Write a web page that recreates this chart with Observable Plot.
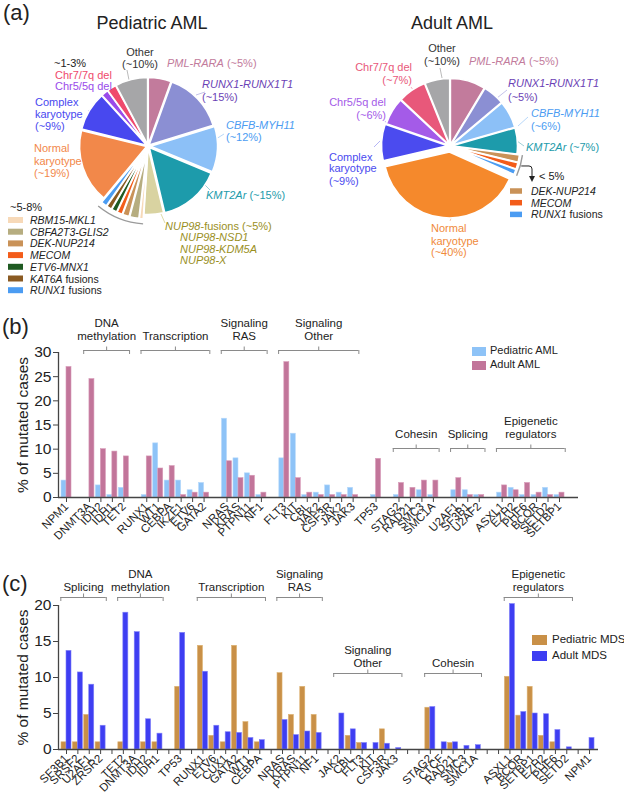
<!DOCTYPE html>
<html><head><meta charset="utf-8">
<script src="https://cdn.jsdelivr.net/npm/d3@7"></script>
<script src="https://cdn.jsdelivr.net/npm/@observablehq/plot@0.6"></script>
<style>
html,body{margin:0;padding:0;background:#fff;overflow:hidden;}
#fig{position:relative;width:624px;height:795px;overflow:hidden;font-family:"Liberation Sans",Arial,Helvetica,sans-serif;color:#222;}
#fig svg{position:absolute;left:0;}
.lab{position:absolute;white-space:nowrap;line-height:1;}
.sw{position:absolute;}
</style></head><body><div id="fig"></div>
<script>
// ================= DATA =================
// Panel (a): cytogenetic subgroups (slice sizes, % of cases)
const pedNames = ["PML-RARA","RUNX1-RUNX1T1","CBFB-MYH11","KMT2Ar","NUP98-fusions","RBM15-MKL1","CBFA2T3-GLIS2","DEK-NUP214","MECOM","ETV6-MNX1","KAT6A fusions","RUNX1 fusions","Normal karyotype","Complex karyotype","Chr5/5q del","Chr7/7q del","Other"];
const pedValues = [5.5,14.7,11,15,4.7,0.9,2.2,1.6,1.3,1.3,1.3,1.4,17.8,9.4,1.7,2.2,7.8];
const adultNames = ["PML-RARA","RUNX1-RUNX1T1","CBFB-MYH11","KMT2Ar","DEK-NUP214","MECOM","RUNX1 fusions","Normal karyotype","Complex karyotype","Chr5/5q del","Chr7/7q del","Other"];
const adultValues = [8.6,5.3,6.7,6.4,1.8,1.6,1.3,39.7,8.9,6.7,6.9,6.1];
const pedLabelText = ["Other","(~10%)","*PML-RARA* (~5%)","*RUNX1-RUNX1T1*","(~15%)","*CBFB-MYH11*","(~12%)","*KMT2Ar* (~15%)","*NUP98*-fusions (~5%)","*NUP98-NSD1*","*NUP98-KDM5A*","*NUP98-X*","Normal","karyotype","(~19%)","Complex","karyotype","(~9%)","~1-3%","Chr7/7q del","Chr5/5q del","~5-8%"];
const pedLegendText = ["*RBM15-MKL1*","*CBFA2T3-GLIS2*","*DEK-NUP214*","*MECOM*","*ETV6-MNX1*","*KAT6A* fusions","*RUNX1* fusions"];
const adultLabelText = ["Other","(~10%)","*PML-RARA* (~5%)","*RUNX1-RUNX1T1*","(~5%)","*CBFB-MYH11*","(~6%)","*KMT2Ar* (~7%)","< 5%","Chr7/7q del","(~7%)","Chr5/5q del","(~6%)","Complex","karyotype","(~9%)","Normal","karyotype","(~40%)"];
const adultLegendText = ["*DEK-NUP214*","*MECOM*","*RUNX1* fusions"];
const titles = ["Pediatric AML","Adult AML"];

// Panel (b): AML mutations, % of mutated cases
const bGenes = ["NPM1","DNMT3A","IDH2","IDH1","TET2","RUNX1","WT1","CEBPA","IKZF1","ETV6","GATA2","NRAS","KRAS","PTPN11","NF1","FLT3","KIT","CBL","JAK2","CSF3R","JAK2","JAK3","TP53","STAG2","RAD21","SMC3","SMC1A","U2AF1","SF3B1","U2AF2","ASXL1","EZH2","PHF6","BCOR","SETD2","SETBP1"];
const bCluster = [0,1,1,1,1,2,2,2,2,2,2,3,3,3,3,4,4,4,4,4,4,4,5,6,6,6,6,7,7,7,8,8,8,8,8,8];
const bPediatricAML = [3.5,0,2.5,0.5,2,0.5,11.2,3.5,3.5,1.5,3,16.3,8.1,5,0.5,8.1,13.2,0.5,1,2.5,1,2,0.5,0.5,0,1.5,0.5,1.5,1.5,0.5,1,2,0.5,0.5,2,0.5];
const bAdultAML = [27,24.5,10,9.5,8.5,8.5,6,6.5,0.5,1,1,7.5,4,4.5,1,28,4,1,0.5,0.5,0.5,0.5,8,3,2,3.5,3.5,4,0.5,0.5,2.5,1.5,3,1,0.5,1];
const bGroupLabels = ["DNA\nmethylation","Transcription","Signaling\nRAS","Signaling\nOther","Cohesin","Splicing","Epigenetic\nregulators"];
const bGroupClusters = [1,2,3,4,6,7,8];
const bSeries = ["Pediatric AML","Adult AML"];
const bTicks = [0,5,10,15,20,25,30];

// Panel (c): MDS mutations, % of mutated cases
const cGenes = ["SF3B1","SRSF2","U2AF1","ZRSR2","TET2","DNMT3A","IDH2","IDH1","TP53","RUNX1","ETV6","CUX1","GATA2","WT1","CEBPA","NRAS","KRAS","PTPN11","NF1","JAK2","CBL","FLT3","KIT","CSF3R","JAK3","STAG2","CTCF","RAD21","SMC3","SMC1A","ASXL1","BCOR","SETBP1","EZH2","PHF6","SETD2","NPM1"];
const cCluster = [0,0,0,0,1,1,1,1,2,3,3,3,3,3,3,4,4,4,4,5,5,5,5,5,5,6,6,6,6,6,7,7,7,7,7,7,8];
const cPediatricMDS = [1,1,4.8,1,1,0,1,1,8.7,14.4,1.9,1,14.4,3.8,1,10.6,4.8,8.7,4.8,0,1.9,0.9,0,2.8,0,5.8,0,0.9,0,0,10.1,4.7,8.7,1.9,1,0,0];
const cAdultMDS = [13.7,10.7,9,3.3,19,16.3,4.2,2.2,16.2,10.8,3.3,2.4,2.3,1.6,1.3,4.1,2,2.5,2.3,5,2.8,0.9,0.9,0.8,0.2,5.9,1,1,0.5,0.6,20.2,5.2,5,4.9,2.7,0.3,1.6];
const cGroupLabels = ["Splicing","DNA\nmethylation","Transcription","Signaling\nRAS","Signaling\nOther","Cohesin","Epigenetic\nregulators"];
const cGroupClusters = [0,1,3,4,5,6,7];
const cSeries = ["Pediatric MDS","Adult MDS"];
const cTicks = [0,5,10,15,20];

// ================= STYLE / LAYOUT =================
const FONT = '"Liberation Sans", Arial, Helvetica, sans-serif';
const W = 624;
const pedColors = ["#c27b9c","#8b8fd3","#8cc0f7","#1d9bab","#d9d3a1","#f7d9b8","#b6ad80","#c99258","#f35c1a","#1f5a22","#8a5a22","#4b9cf2","#f2884a","#4848ef","#9a4bea","#ef4a6c","#a6a6a8"];
const adultColors = ["#c27b9c","#8b8fd3","#8cc0f7","#1d9bab","#c99258","#f35c1a","#4b9cf2","#f5892c","#4b4bef","#a45be8","#e8587a","#a6a6a8"];
const pedPie = {cx:148, cy:146, r:67, explode:[1.5,1.5,2.5,2,1.5,6,6,6,6,6,6,6,1.5,1.5,1.5,1.5,1.5], bracket:[5,11,78]};
const adultPie = {cx:450, cy:146, r:66, explode:[1.5,1.5,1.5,1.5,4,4,4,6,2.5,1.5,1.5,1.5], bracket:[4,6,73], arrow:{x:532, y:182}};
const LBL = 11;
const pedLabelPos = [
 [140,56,"middle","#333"],[140,68,"middle","#333"],[167,67,"start","#c27b9c"],
 [202,88,"start","#6b3fb5"],[202,101,"start","#6b3fb5"],[226,129,"start","#4b9cf2"],[226,141,"start","#4b9cf2"],
 [206,199,"start","#1d9bab"],[165,230,"start","#9a8f1e"],[180,241,"start","#9a8f1e"],[180,253,"start","#9a8f1e"],[180,264,"start","#9a8f1e"],
 [34,152,"start","#f2884a"],[34,165,"start","#f2884a"],[34,177,"start","#f2884a"],
 [35,106,"start","#4848ef"],[35,118,"start","#4848ef"],[35,130,"start","#4848ef"],
 [54,67,"start","#222"],[55,79,"start","#ef4a6c"],[55,90,"start","#9a4bea"],[10,211,"start","#222"]];
const adultLabelPos = [
 [442,52,"middle","#333"],[442,65,"middle","#333"],[469,65,"start","#c27b9c"],
 [508,87,"start","#6b3fb5"],[508,101,"start","#6b3fb5"],[531,117,"start","#4b9cf2"],[531,130,"start","#4b9cf2"],
 [526,151,"start","#1d9bab"],[539,180,"start","#222"],
 [412,71,"end","#e8587a"],[412,84,"end","#e8587a"],[386,106,"end","#a45be8"],[386,119,"end","#a45be8"],
 [329,161,"start","#4b4bef"],[329,172,"start","#4b4bef"],[329,185,"start","#4b4bef"],
 [431,232,"start","#f08a3a"],[431,245,"start","#f08a3a"],[431,256,"start","#f08a3a"]];
const pedLegendLayout = {x:8, y0:220, dy:11.7, w:15, h:6, tx:30};
const adultLegendLayout = {x:510, y0:191, dy:11.7, w:12, h:5.5, tx:531};
const pedLeaders = [[127,70,129,80,"#bbb"],[205,92,196,95,"#c5c3ea"],[224,134,216,139,"#b8d8fa"],[210,190,204,184,"#9fd0d6"],[165,223,161,214,"#dedaa8"],[88,110,93,115,"#b5b5f5"],[80,140,84,146,"#f8c8a8"]];
const adultLeaders = [[440,68,442,78,"#bbb"],[507,90,497,98,"#c5c3ea"],[528,117,518,126,"#b8d8fa"],[524,146,517,141,"#9fd0d6"],[411,87,416,94,"#f4b0c0"],[385,121,390,127,"#d4b4f4"],[374,147,380,141,"#b5b5f5"],[450,221,453,213,"#f8c8a8"]];

const bLayout = {top:300, height:280, mt:52, mb:83, ml:58, mr:46, first:66, k:11.465, ymax:30, barW:5, pad:0.5,
  bracketPy:[350,350,350,350,448,448,448], labelGap:10.5, colors:["#8ec3f7","#c2759a"], strokes:["#b5d8fb","#d79ab8"], tickAll:false, gapBefore:[0,1,1,1,1,1,1,1,1]};
const cLayout = {top:560, height:235, mt:45, mb:46, ml:58, mr:26, first:66, k:11.37, ymax:20, barW:5, pad:0.5,
  bracketPy:[597,597,597,597,673,673,597], labelGap:7, colors:["#c99047","#3e3ef2"], strokes:["#ddb170","#8080f8"], tickAll:true, gapBefore:[0,1,1,1,1,1,2,2,1]};

// ================= HELPERS =================
const fig = document.getElementById("fig");
function mount(node, top) { node.style.position = "absolute"; node.style.left = "0px"; node.style.top = top + "px"; fig.appendChild(node); }
function rich(sel, s) { let it = false; for (const seg of s.split("*")) { if (seg) sel.append("tspan").attr("font-style", it ? "italic" : "normal").text(seg); it = !it; } }
function sxy(scales) {
  const X = scales && typeof scales.x === "function" ? scales.x : v => v;
  const Y = scales && typeof scales.y === "function" ? scales.y : v => v;
  return [X, Y];
}
function pieMark(values, colors, names, L) {
  return (index, scales) => {
    const [X, Y] = sxy(scales);
    const cx = X(L.cx), cy = Y(L.cy);
    const g = d3.create("svg:g");
    const arcs = d3.pie().sort(null).value(d => d)(values);
    const arc = d3.arc().innerRadius(0).outerRadius(L.r);
    arcs.forEach((a, i) => {
      const m = (a.startAngle + a.endAngle) / 2, o = L.explode[i];
      g.append("path").attr("d", arc(a))
        .attr("transform", `translate(${cx + Math.sin(m) * o},${cy - Math.cos(m) * o})`)
        .attr("fill", colors[i]).attr("stroke", "#fff").attr("stroke-width", 1.6).attr("stroke-linejoin", "round")
        .append("title").text(names[i]);
    });
    if (L.bracket) {
      const [i0, i1, rr] = L.bracket;
      const a0 = arcs[i0].startAngle, a1 = arcs[i1].endAngle;
      const p = d3.path();
      p.moveTo(cx + rr * Math.sin(a0), cy - rr * Math.cos(a0));
      p.arc(cx, cy, rr, a0 - Math.PI / 2, a1 - Math.PI / 2);
      g.append("path").attr("d", p.toString()).attr("fill", "none").attr("stroke", "#9a9a9a").attr("stroke-width", 1.4);
      if (L.arrow) {
        const am = (a0 + a1) / 2;
        const sx = cx + (rr + 1) * Math.sin(am), sy = cy - (rr + 1) * Math.cos(am);
        const ax = X(L.arrow.x), ay = Y(L.arrow.y);
        g.append("path").attr("d", `M${sx},${sy}H${ax - 3}Q${ax},${sy} ${ax},${sy + 3}V${ay - 5}`).attr("fill", "none").attr("stroke", "#222").attr("stroke-width", 1);
        g.append("path").attr("d", `M${ax - 3},${ay - 6}L${ax + 3},${ay - 6}L${ax},${ay}Z`).attr("fill", "#222");
      }
    }
    return g.node();
  };
}
function textMark(texts, pos, size) {
  return (index, scales) => {
    const [X, Y] = sxy(scales);
    const g = d3.create("svg:g").attr("font-family", FONT);
    texts.forEach((s, i) => {
      const [x, y, anchor, color] = pos[i];
      const t = g.append("text").attr("x", X(x)).attr("y", Y(y)).attr("text-anchor", anchor).attr("fill", color).attr("font-size", size);
      rich(t, s);
    });
    return g.node();
  };
}
function legendMark(texts, colors, L, size) {
  return (index, scales) => {
    const [X, Y] = sxy(scales);
    const g = d3.create("svg:g").attr("font-family", FONT);
    texts.forEach((s, i) => {
      const y = L.y0 + i * L.dy;
      g.append("rect").attr("x", X(L.x)).attr("y", Y(y) - L.h / 2).attr("width", L.w).attr("height", L.h).attr("fill", colors[i]);
      const t = g.append("text").attr("x", X(L.tx)).attr("y", Y(y) + 4).attr("text-anchor", "start").attr("fill", "#222").attr("font-size", size);
      rich(t, s);
    });
    return g.node();
  };
}
function leaderMark(lines) {
  return (index, scales) => {
    const [X, Y] = sxy(scales);
    const g = d3.create("svg:g");
    for (const [x1, y1, x2, y2, c] of lines) g.append("line").attr("x1", X(x1)).attr("y1", Y(y1)).attr("x2", X(x2)).attr("y2", Y(y2)).attr("stroke", c).attr("stroke-width", 1);
    return g.node();
  };
}

// ================= PANEL (a) =================
const piePlot = Plot.plot({
  width: W, height: 300, margin: 0,
  x: {domain: [0, W], axis: null},
  y: {domain: [0, 300], axis: null, reverse: true},
  style: {background: "transparent", fontFamily: FONT},
  marks: [
    leaderMark(pedLeaders), leaderMark(adultLeaders),
    pieMark(pedValues, pedColors, pedNames, pedPie),
    pieMark(adultValues, adultColors, adultNames, adultPie),
    textMark(pedLabelText, pedLabelPos, LBL),
    textMark(adultLabelText, adultLabelPos, LBL),
    legendMark(pedLegendText, pedColors.slice(5, 12), pedLegendLayout, 10.5),
    legendMark(adultLegendText, adultColors.slice(4, 7), adultLegendLayout, 10.5),
    textMark(titles, [[152,29,"middle","#222"],[452,29,"middle","#222"]], 18)
  ]
});
mount(piePlot, 0);

// ================= PANELS (b), (c) =================
function barPanel(genes, clusters, seriesA, seriesB, groupLabels, groupClusters, yTicks, L) {
  const off = []; let acc = 0;
  L.gapBefore.forEach((gp, c) => { acc += gp; off[c] = acc; });
  const slots = genes.map((g, i) => i + off[clusters[i]]);
  const labelAt = new Map(slots.map((s, i) => [s, genes[i]]));
  const rows = genes.map((g, i) => ({gene: g, slot: slots[i], a: seriesA[i], b: seriesB[i]}));
  const unit = (L.height - L.mt - L.mb) / L.ymax;
  const toV = py => (L.top + L.height - L.mb - py) / unit;
  const d0 = -(L.first - L.ml) / L.k, d1 = d0 + (W - L.ml - L.mr) / L.k;
  const groups = groupLabels.map((lab, j) => {
    const ss = slots.filter((s, i) => clusters[i] === groupClusters[j]);
    const s0 = d3.min(ss), s1 = d3.max(ss);
    return {label: lab, x1: s0 - L.pad, x2: s1 + L.pad, mid: (s0 + s1) / 2, y: toV(L.bracketPy[j])};
  });
  const ends = groups.flatMap(g => [{x: g.x1, y: g.y}, {x: g.x2, y: g.y}]);
  const tickVals = L.tickAll ? d3.range(0, d3.max(slots) + 1) : slots;
  const half = L.barW / L.k;
  return Plot.plot({
    width: W, height: L.height,
    marginTop: L.mt, marginBottom: L.mb, marginLeft: L.ml, marginRight: L.mr,
    style: {background: "transparent", fontFamily: FONT, color: "#222"},
    x: {type: "linear", domain: [d0, d1]},
    y: {domain: [0, L.ymax]},
    marks: [
      Plot.rectY(rows, {x1: d => d.slot - half, x2: d => d.slot, y1: 0, y2: "a", fill: L.colors[0], stroke: L.strokes[0], strokeWidth: 0.6, title: d => `${d.gene}: ${d.a}%`}),
      Plot.rectY(rows, {x1: d => d.slot, x2: d => d.slot + half, y1: 0, y2: "b", fill: L.colors[1], stroke: L.strokes[1], strokeWidth: 0.6, title: d => `${d.gene}: ${d.b}%`}),
      Plot.ruleY([0], {stroke: "#444", strokeWidth: 1.3}),
      Plot.ruleX([d0], {stroke: "#444", strokeWidth: 1.3}),
      Plot.axisY({ticks: yTicks, tickSize: 5, tickPadding: 2, fontSize: 15.5, label: "% of mutated cases", labelAnchor: "center", labelOffset: 42, labelArrow: "none", stroke: "#444"}),
      Plot.axisX({ticks: tickVals, tickFormat: s => labelAt.get(s) ?? "", tickRotate: -45, tickSize: 5, tickPadding: 2, fontSize: 11.5, label: null, stroke: "#444"}),
      Plot.ruleY(groups, {x1: "x1", x2: "x2", y: "y", stroke: "#8a8a8a", strokeWidth: 1}),
      Plot.ruleX(ends, {x: "x", y1: "y", y2: d => d.y - 4 / unit, stroke: "#8a8a8a", strokeWidth: 1}),
      Plot.ruleX(groups, {x: "mid", y1: "y", y2: d => d.y + 3.5 / unit, stroke: "#8a8a8a", strokeWidth: 1}),
      Plot.text(groups, {x: "mid", y: d => d.y + L.labelGap / unit, text: "label", lineAnchor: "bottom", lineHeight: 1.1, fontSize: 11.5, fill: "#222"})
    ]
  });
}
mount(barPanel(bGenes, bCluster, bPediatricAML, bAdultAML, bGroupLabels, bGroupClusters, bTicks, bLayout), bLayout.top);
mount(barPanel(cGenes, cCluster, cPediatricMDS, cAdultMDS, cGroupLabels, cGroupClusters, cTicks, cLayout), cLayout.top);

// ================= HTML: panel letters and legends =================
function addText(txt, left, top, size) { const d = document.createElement("div"); d.className = "lab"; d.textContent = txt; d.style.left = left + "px"; d.style.top = top + "px"; d.style.fontSize = size + "px"; fig.appendChild(d); }
function addLegend(names, colors, sx, tx, ys, w, h, size) {
  names.forEach((n, i) => {
    const s = document.createElement("div"); s.className = "sw"; Object.assign(s.style, {left: sx + "px", top: (ys[i] - h / 2) + "px", width: w + "px", height: h + "px", background: colors[i]}); fig.appendChild(s);
    addText(n, tx, ys[i] - size * 0.55, size);
  });
}
addText("(a)", 3, 2, 22);
addText("(b)", 2, 316, 22);
addText("(c)", 2, 573, 22);
addLegend(bSeries, bLayout.colors, 472, 490, [351, 365], 14, 9, 11);
addLegend(cSeries, cLayout.colors, 532, 552, [640, 656], 15, 10, 11.5);
</script></body></html>
